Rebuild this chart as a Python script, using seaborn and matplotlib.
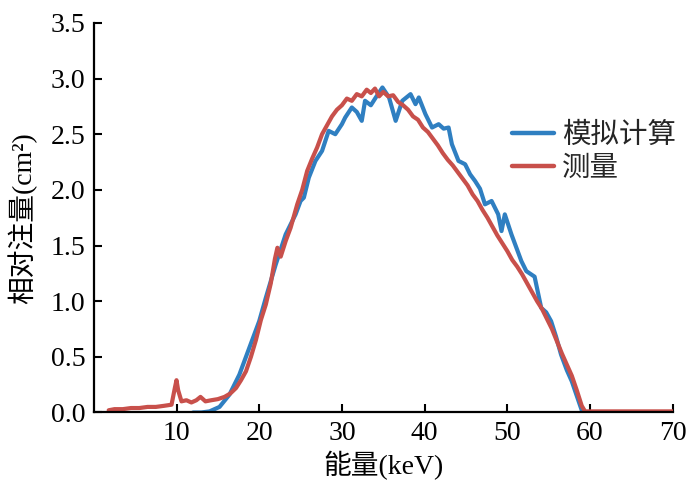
import matplotlib
matplotlib.use("Agg")
import matplotlib.pyplot as plt
import seaborn as sns
import pandas as pd

# ---- data ----
meas_x = [1.8, 2.5, 3.5, 4.5, 5.5, 6.5, 7.5, 8.5, 9.4, 9.8, 10.0, 10.2, 10.6, 11.2, 11.8,
          12.4, 12.9, 13.5, 14.2, 15.0, 15.8, 16.5, 17.2, 17.8, 18.4, 19.0, 19.6, 20.2,
          20.8, 21.4, 21.9, 22.2, 22.6, 23.2, 23.8, 24.6, 25.2, 25.8, 26.4, 27.0, 27.6,
          28.2, 28.8, 29.4, 30.0, 30.6, 31.2, 31.8, 32.4, 33.0, 33.5, 34.0, 34.5, 35.0,
          35.6, 36.2, 36.8, 37.4, 38.0, 38.6, 39.2, 39.8, 40.4, 41.0, 41.6, 42.2, 42.8,
          43.4, 44.0, 44.6, 45.2, 45.8, 46.4, 47.0, 47.6, 48.2, 48.8, 49.4, 50.0, 50.6,
          51.2, 51.8, 52.4, 53.0, 53.6, 54.2, 54.8, 55.4, 56.0, 56.6, 57.2, 57.8, 58.4,
          59.0, 59.4, 60.0, 62.0, 64.0, 66.0, 68.0, 70.0]
meas_y = [0.02, 0.03, 0.03, 0.04, 0.04, 0.05, 0.05, 0.06, 0.07, 0.22, 0.29, 0.20, 0.10, 0.11, 0.09,
          0.11, 0.14, 0.10, 0.11, 0.12, 0.14, 0.17, 0.22, 0.29, 0.37, 0.50, 0.65, 0.83,
          0.97, 1.16, 1.38, 1.48, 1.40, 1.54, 1.66, 1.87, 2.00, 2.17, 2.28, 2.38, 2.50,
          2.58, 2.66, 2.72, 2.76, 2.82, 2.80, 2.86, 2.84, 2.90, 2.87, 2.91, 2.84, 2.88,
          2.84, 2.85, 2.79, 2.76, 2.72, 2.66, 2.63, 2.56, 2.52, 2.46, 2.40, 2.33, 2.27,
          2.22, 2.16, 2.10, 2.04, 1.96, 1.90, 1.82, 1.75, 1.67, 1.59, 1.52, 1.45, 1.37,
          1.31, 1.24, 1.16, 1.08, 1.00, 0.93, 0.84, 0.75, 0.64, 0.53, 0.43, 0.33, 0.20,
          0.06, 0.01, 0.01, 0.01, 0.01, 0.01, 0.01, 0.01]

sim_x = [12.0, 13.0, 14.0, 15.2, 16.4, 17.6, 18.8, 20.0, 20.8, 22.0, 23.2, 24.4, 25.0, 25.4,
         26.0, 26.8, 27.6, 28.4, 29.2, 30.0, 30.4, 31.2, 31.8, 32.4, 32.8, 33.5, 34.1, 34.9,
         35.7, 36.5, 37.3, 38.3, 38.9, 39.3, 40.1, 40.9, 41.7, 42.3, 42.9, 43.3, 44.1, 44.9,
         45.5, 46.1, 46.7, 47.3, 48.1, 48.9, 49.3, 49.7, 50.5, 51.1, 51.7, 52.3, 52.9, 53.3,
         54.1, 54.7, 55.3, 55.9, 56.5, 57.2, 57.8, 58.4, 59.0, 59.5, 60.0]
sim_y = [0.00, 0.00, 0.01, 0.05, 0.16, 0.34, 0.58, 0.82, 1.03, 1.33, 1.60, 1.78, 1.90, 1.93,
         2.11, 2.26, 2.35, 2.53, 2.50, 2.59, 2.65, 2.74, 2.70, 2.62, 2.80, 2.76, 2.83, 2.92,
         2.83, 2.62, 2.80, 2.86, 2.77, 2.83, 2.68, 2.56, 2.59, 2.55, 2.56, 2.41, 2.26, 2.23,
         2.14, 2.08, 2.01, 1.87, 1.90, 1.78, 1.63, 1.78, 1.60, 1.48, 1.36, 1.27, 1.24, 1.22,
         0.94, 0.90, 0.82, 0.68, 0.52, 0.38, 0.28, 0.15, 0.02, 0.00, 0.00]

series_names = ["模拟计算", "测量"]
colors = ["#2f7fc1", "#c8504b"]
x_ticks = [10, 20, 30, 40, 50, 60, 70]
y_ticks = [0.0, 0.5, 1.0, 1.5, 2.0, 2.5, 3.0, 3.5]

df = pd.concat([
    pd.DataFrame({"x": sim_x, "y": sim_y, "s": series_names[0]}),
    pd.DataFrame({"x": meas_x, "y": meas_y, "s": series_names[1]}),
], ignore_index=True)

sns.set_theme(style="ticks")
fam = ["Liberation Serif", "Noto Sans CJK SC", "DejaVu Sans"]
plt.rcParams["font.family"] = fam
plt.rcParams["axes.unicode_minus"] = False

fig = plt.figure(figsize=(7, 4.87), dpi=100)
ax = fig.add_axes([0.134, 0.153, 0.827, 0.800])

sns.lineplot(data=df, x="x", y="y", hue="s", palette=dict(zip(series_names, colors)),
             linewidth=3.0, ax=ax, sort=False, estimator=None)

ax.set_xlim(0, 70)
ax.set_ylim(0, 3.5)
ax.set_xticks(x_ticks)
ax.set_yticks(y_ticks)
ax.set_yticklabels([f"{v:.1f}" for v in y_ticks])
ax.tick_params(direction="in", length=6, width=1.5, labelsize=20, colors="black", pad=6)
for sp in ["top", "right"]:
    ax.spines[sp].set_visible(False)
for sp in ["left", "bottom"]:
    ax.spines[sp].set_linewidth(1.6)
    ax.spines[sp].set_color("black")

ax.set_xlabel("能量(keV)", fontsize=20, labelpad=4, color="black")
ax.set_ylabel("相对注量(cm²)", fontsize=20, labelpad=10, color="black")

leg = ax.legend(loc="upper left", bbox_to_anchor=(0.722, 0.745), frameon=False,
                fontsize=20.5, handlelength=1.5, handletextpad=0.27, labelspacing=0.25,
                borderaxespad=0, borderpad=0)
for line in leg.get_lines():
    line.set_linewidth(3.2)

fig.savefig("out.png", dpi=100)
